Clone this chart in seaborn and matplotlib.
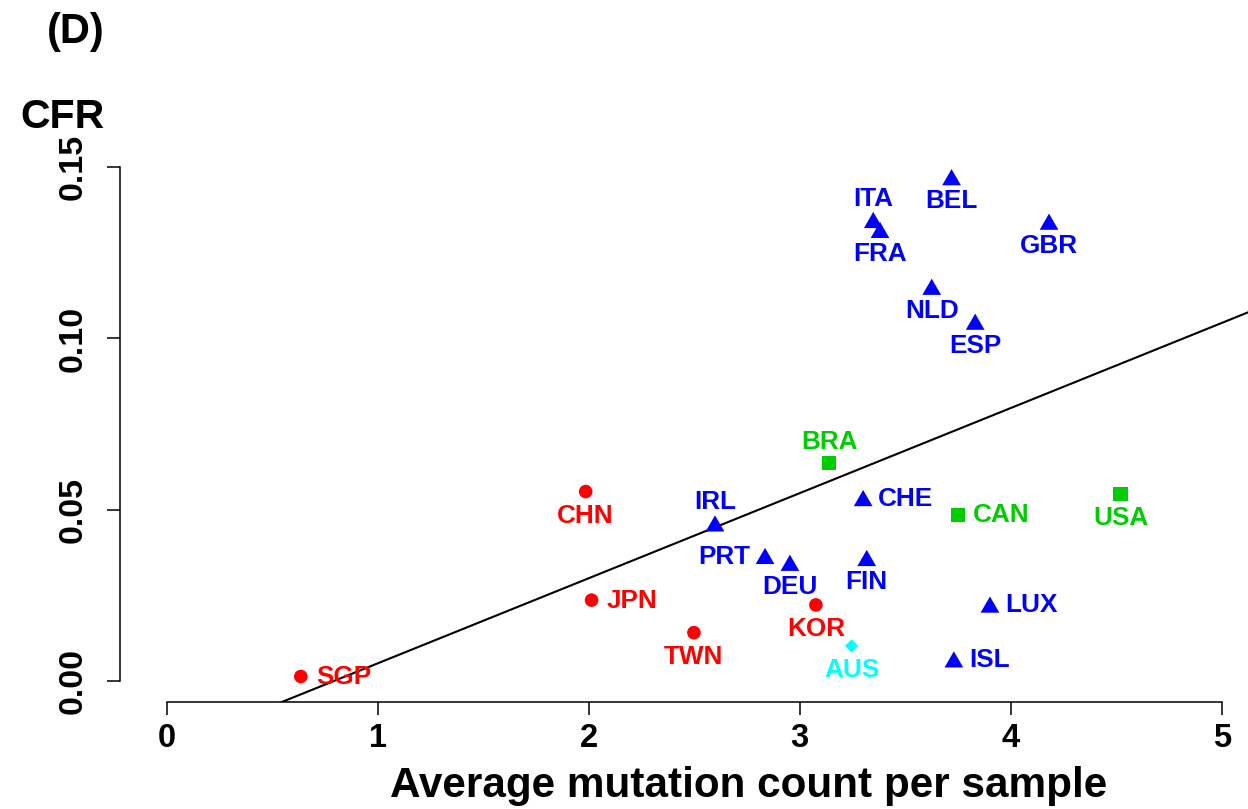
import numpy as np
import pandas as pd
import matplotlib
matplotlib.use("Agg")
import matplotlib.pyplot as plt
import seaborn as sns

# ---- data ----
countries = ["SGP", "CHN", "JPN", "TWN", "KOR", "AUS", "BRA", "CAN", "USA",
             "IRL", "PRT", "DEU", "CHE", "FIN", "LUX", "ISL",
             "ITA", "FRA", "BEL", "GBR", "NLD", "ESP"]
mutation = [0.636, 1.986, 2.014, 2.499, 3.077, 3.246, 3.140, 3.752, 4.521,
            2.599, 2.836, 2.954, 3.301, 3.318, 3.902, 3.731,
            3.349, 3.381, 3.720, 4.182, 3.626, 3.832]
cfr = [0.0013, 0.0553, 0.0236, 0.0141, 0.0222, 0.0102, 0.0636, 0.0485, 0.0545,
       0.0460, 0.0365, 0.0345, 0.0534, 0.0359, 0.0223, 0.0063,
       0.1346, 0.1317, 0.1471, 0.1341, 0.1151, 0.1049]
region = ["Asia", "Asia", "Asia", "Asia", "Asia", "Oceania", "America", "America", "America",
          "Europe", "Europe", "Europe", "Europe", "Europe", "Europe", "Europe",
          "Europe", "Europe", "Europe", "Europe", "Europe", "Europe"]
label_pos = ["right", "below", "right", "below", "below", "below", "above", "right", "below",
             "above", "left", "below", "right", "below", "right", "right",
             "above", "below", "below", "below", "below", "below"]
x_ticks = [0, 1, 2, 3, 4, 5]
y_ticks = [0.00, 0.05, 0.10, 0.15]

df = pd.DataFrame({"country": countries, "mutation": mutation, "cfr": cfr,
                   "region": region, "pos": label_pos})

colors = {"Asia": "#FF0000", "Oceania": "#00FFFF", "America": "#00CD00", "Europe": "#0000FF"}
tri = [(-1, -0.866), (1, -0.866), (0, 0.866)]
dia = [(0, 1), (1, 0), (0, -1), (-1, 0)]
markers = {"Asia": "o", "Oceania": dia, "America": "s", "Europe": tri}
msizes = {"Asia": 96, "Oceania": 92, "America": 106, "Europe": 182}

sns.set_style("white")
plt.rcParams["font.family"] = ["Liberation Sans", "DejaVu Sans"]
plt.rcParams["font.weight"] = "bold"
plt.rcParams["text.color"] = "black"

W, H = 1248, 809
fig = plt.figure(figsize=(W / 100, H / 100), dpi=100)
left_px, bottom_px, top_px = 120, 701.5, 146.7
ax = fig.add_axes([left_px / W, (H - bottom_px) / H, (W - left_px) / W, (bottom_px - top_px) / H])
xlim = (-0.221, 5.125)
ylim = (-0.006, 0.156)
ax.set_xlim(*xlim)
ax.set_ylim(*ylim)

# regression line across the plot region
sns.regplot(data=df, x="mutation", y="cfr", scatter=False, ci=None, truncate=False,
            color="black", line_kws={"linewidth": 1.5}, ax=ax)

for reg in ["Asia", "Oceania", "America", "Europe"]:
    sub = df[df["region"] == reg]
    sns.scatterplot(data=sub, x="mutation", y="cfr", marker=markers[reg], s=msizes[reg],
                    color=colors[reg], edgecolor="none", linewidth=0, ax=ax, zorder=3,
                    legend=False)

px = 0.72  # points per pixel
offsets = {"below": ((0, -31 * px), "center"),
           "above": ((0, 14 * px), "center"),
           "right": ((15 * px, -7.5 * px), "left"),
           "left": ((-15 * px, -8 * px), "right")}
for _, r in df.iterrows():
    off, ha = offsets[r["pos"]]
    ax.annotate(r["country"], (r["mutation"], r["cfr"]), xytext=off, textcoords="offset points",
                ha=ha, va="baseline", color=colors[r["region"]], fontsize=18.8,
                fontweight="bold", zorder=4)

ax.set_xlim(*xlim)
ax.set_ylim(*ylim)
ax.set_xlabel("")
ax.set_ylabel("")
for s in ["top", "right"]:
    ax.spines[s].set_visible(False)
ax.spines["left"].set_bounds(0, 0.15)
ax.spines["bottom"].set_bounds(0, 5)
for s in ["left", "bottom"]:
    ax.spines[s].set_linewidth(1.1)
    ax.spines[s].set_color("black")

ax.set_xticks(x_ticks)
ax.set_xticklabels([str(v) for v in x_ticks])
ax.set_yticks(y_ticks)
ax.set_yticklabels([f"{v:.2f}" for v in y_ticks])
ax.tick_params(axis="both", direction="out", length=9.5, width=1.1, color="black",
               labelcolor="black", bottom=True, left=True, top=False, right=False)
ax.tick_params(axis="x", pad=6, labelsize=23.5)
ax.tick_params(axis="y", pad=13, labelsize=24.5)
for lab in ax.get_yticklabels():
    lab.set_rotation(90)
    lab.set_va("center")
    lab.set_ha("right")
    lab.set_fontweight("bold")
for lab in ax.get_xticklabels():
    lab.set_fontweight("bold")
ax.grid(False)

fig.text(749 / W, (H - 797) / H, "Average mutation count per sample", ha="center",
         va="baseline", fontsize=30.4, fontweight="bold", color="black")
fig.text(63 / W, (H - 128) / H, "CFR", ha="center", va="baseline", fontsize=29.5,
         fontweight="bold", color="black")
fig.text(47 / W, (H - 43) / H, "(D)", ha="left", va="baseline", fontsize=30,
         fontweight="bold", color="black")

fig.savefig("out.png", dpi=100)
